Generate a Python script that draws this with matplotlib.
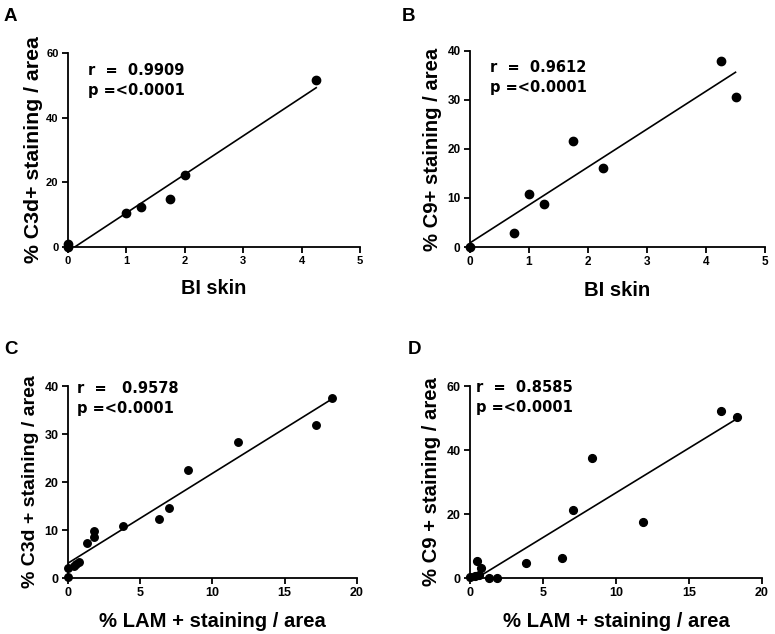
import numpy as np
import matplotlib
matplotlib.use("Agg")
import matplotlib.pyplot as plt

plt.rcParams['font.family'] = ['Liberation Sans', 'DejaVu Sans']
plt.rcParams['font.weight'] = 'bold'

# Panel A: BI skin vs % C3d+ staining / area
a_x = [0, 0, 1.0, 1.25, 1.75, 2.0, 4.25]
a_y = [0, 0.9, 10.5, 12.4, 14.9, 22.2, 51.6]
# Panel B: BI skin vs % C9+ staining / area
b_x = [0, 0.75, 1.0, 1.25, 1.75, 2.25, 4.25, 4.5]
b_y = [0, 2.8, 10.8, 8.8, 21.6, 16.1, 37.9, 30.6]
# Panel C: % LAM+ vs % C3d+
c_x = [0, 0, 0.4, 0.55, 0.74, 1.29, 1.82, 1.82, 3.78, 6.32, 7.01, 8.3, 11.79, 17.19, 18.27]
c_y = [0.2, 2.0, 2.6, 3.0, 3.4, 7.3, 8.5, 9.7, 10.9, 12.4, 14.6, 22.5, 28.3, 31.8, 37.6]
# Panel D: % LAM+ vs % C9+
d_x = [0, 0.35, 0.5, 0.62, 0.73, 1.33, 1.85, 3.82, 6.33, 7.02, 8.32, 11.82, 17.17, 18.29]
d_y = [0.3, 0.5, 5.3, 1.0, 3.1, 0, 0, 4.8, 6.4, 21.2, 37.6, 17.4, 52.3, 50.3]

panels = [
    dict(letter='A', x=a_x, y=a_y, xlim=5, ylim=60, xticks=[0, 1, 2, 3, 4, 5], yticks=[0, 20, 40, 60],
         xlabel='BI skin', ylabel='% C3d+ staining / area', r='r  =  0.9909', p='p =<0.0001',
         rect=[0.0877, 0.6104, 0.3768, 0.306], txt=(0.068, 0.948, 0.845),
         tsz=8, xls=14.3, yls=15.3, ms=6, ylp=2, xlp=9),
    dict(letter='B', x=b_x, y=b_y, xlim=5, ylim=40, xticks=[0, 1, 2, 3, 4, 5], yticks=[0, 10, 20, 30, 40],
         xlabel='BI skin', ylabel='% C9+ staining / area', r='r  =  0.9612', p='p =<0.0001',
         rect=[0.6065, 0.6104, 0.3806, 0.3092], txt=(0.068, 0.954, 0.85),
         tsz=8.5, xls=14.6, yls=14.6, ms=6, ylp=4, xlp=9),
    dict(letter='C', x=c_x, y=c_y, xlim=20, ylim=40, xticks=[0, 5, 10, 15, 20], yticks=[0, 10, 20, 30, 40],
         xlabel='% LAM + staining / area', ylabel='% C3d + staining / area', r='r  =   0.9578', p='p =<0.0001',
         rect=[0.0877, 0.0883, 0.3729, 0.3028], txt=(0.031, 1.026, 0.92),
         tsz=9, xls=14.6, yls=14, ms=5.4, ylp=4, xlp=9),
    dict(letter='D', x=d_x, y=d_y, xlim=20, ylim=60, xticks=[0, 5, 10, 15, 20], yticks=[0, 20, 40, 60],
         xlabel='% LAM + staining / area', ylabel='% C9 + staining / area', r='r  =  0.8585', p='p =<0.0001',
         rect=[0.6065, 0.0883, 0.3768, 0.3028], txt=(0.02, 1.03, 0.925),
         tsz=9, xls=14.6, yls=14.6, ms=5.6, ylp=4, xlp=9),
]

letter_pos = {'A': (0.005, 0.988), 'B': (0.518, 0.988), 'C': (0.005, 0.462), 'D': (0.526, 0.462)}

fig = plt.figure(figsize=(7.75, 6.34), dpi=100)
for pnl in panels:
    ax = fig.add_axes(pnl['rect'])
    x = np.array(pnl['x']); y = np.array(pnl['y'])
    slope, icpt = np.polyfit(x, y, 1)
    xs = np.array([x.min(), x.max()])
    ax.plot(xs, slope * xs + icpt, color='black', lw=1.2, zorder=2)
    ax.plot(x, y, 'o', color='black', ms=pnl['ms'], clip_on=False, zorder=3)
    ax.set_xlim(0, pnl['xlim'])
    ax.set_ylim(0, pnl['ylim'])
    ax.set_xticks(pnl['xticks'])
    ax.set_yticks(pnl['yticks'])
    for s in ['top', 'right']:
        ax.spines[s].set_visible(False)
    for s in ['left', 'bottom']:
        ax.spines[s].set_linewidth(1.3)
    ax.tick_params(direction='out', length=4.3, width=1.3, labelsize=pnl['tsz'], pad=2.5)
    for lab in ax.get_xticklabels() + ax.get_yticklabels():
        lab.set_fontweight('bold')
    ax.set_xlabel(pnl['xlabel'], fontsize=pnl['xls'], fontweight='bold', labelpad=pnl['xlp'])
    ax.set_ylabel(pnl['ylabel'], fontsize=pnl['yls'], fontweight='bold', labelpad=pnl['ylp'])
    tx, ty1, ty2 = pnl['txt']
    ax.text(tx, ty1, pnl['r'], transform=ax.transAxes, fontsize=10.5, fontweight='bold',
            va='top', ha='left', family='DejaVu Sans')
    ax.text(tx, ty2, pnl['p'], transform=ax.transAxes, fontsize=10.5, fontweight='bold',
            va='top', ha='left', family='DejaVu Sans')
    lx, ly = letter_pos[pnl['letter']]
    fig.text(lx, ly, pnl['letter'], fontsize=13.5, fontweight='bold', va='top', ha='left')

fig.savefig('out.png', dpi=100)
